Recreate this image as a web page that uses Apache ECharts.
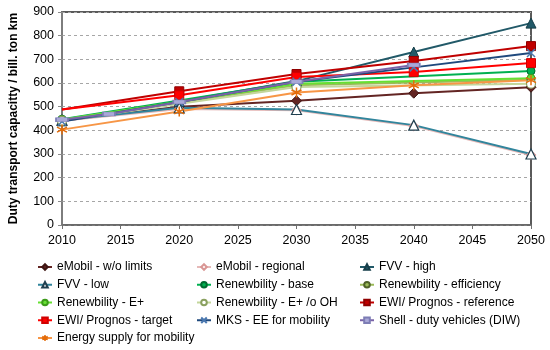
<!DOCTYPE html>
<html>
<head>
<meta charset="utf-8">
<script src="https://cdn.jsdelivr.net/npm/echarts@6/dist/echarts.min.js"></script>
<style>html,body{margin:0;padding:0;background:#fff;}#c{width:550px;height:350px;}</style>
</head>
<body>
<div id="c"></div>
<script>
// ---- data ----
const xTicks = [2010, 2015, 2020, 2025, 2030, 2035, 2040, 2045, 2050];
const yTicks = [0, 100, 200, 300, 400, 500, 600, 700, 800, 900];

const stdYears = [2010, 2020, 2030, 2040, 2050];
const renewYears = [2010, 2030, 2050];
const shellYears = [2010, 2014, 2020, 2030, 2040];

const eMobilWoLimits = [440, 500, 525, 557, 582];
const eMobilRegional = [440, 490, 485, 418, 296];
const fvvHigh = [440, 522, 608, 731, 853];
const fvvLow = [443, 495, 488, 422, 300];
const renewBase = [447, 605, 651];
const renewEfficiency = [445, 590, 614];
const renewEPlus = [445, 597, 620];
const renewEPlusNoOH = [440, 583, 597];
const ewiReference = [488, 565, 638, 693, 756];
const ewiTarget = [488, 548, 625, 646, 684];
const mksEE = [437, 520, 605, 666, 727];
const shellDuty = [445, 469, 520, 605, 676];
const energySupply = [403, 480, 560, 590, 612];

const seriesNames = [
  'eMobil - w/o limits', 'eMobil - regional', 'FVV - high',
  'FVV - low', 'Renewbility - base', 'Renewbility - efficiency',
  'Renewbility - E+', 'Renewbility - E+ /o OH', 'EWI/ Prognos - reference',
  'EWI/ Prognos - target', 'MKS - EE for mobility', 'Shell - duty vehicles (DIW)',
  'Energy supply for mobility'
];

// ---- styling ----
const X_PATH = 'path://M-1,-1L1,1M-1,1L1,-1';
const STAR_PATH = 'path://M0,-1L0,1M-0.87,-0.5L0.87,0.5M-0.87,0.5L0.87,-0.5';

function pairs(years, vals, hideFirst) {
  return years.map((y, i) => {
    if (hideFirst && i === 0) return { value: [y, vals[i]], symbol: 'none' };
    return [y, vals[i]];
  });
}

function mk(name, years, vals, lineColor, symbol, size, fill, border, bw, hideFirst) {
  return {
    name: name,
    type: 'line',
    data: pairs(years, vals, hideFirst),
    symbol: symbol,
    symbolSize: size,
    showAllSymbol: true,
    lineStyle: { color: lineColor, width: 2 },
    itemStyle: { color: fill, borderColor: border, borderWidth: bw },
    emphasis: { disabled: true },
    animation: false
  };
}

const series = [
  mk(seriesNames[0], stdYears, eMobilWoLimits, '#632523', 'diamond', 10, '#632523', '#3d1512', 1),
  mk(seriesNames[1], stdYears, eMobilRegional, '#E6B9B8', 'diamond', 9, '#ffffff', '#D99694', 1.2),
  mk(seriesNames[2], stdYears, fvvHigh, '#215968', 'triangle', 10, '#215968', '#163e49', 1),
  mk(seriesNames[3], stdYears, fvvLow, '#31859C', 'triangle', 10, '#ffffff', '#1f3f4f', 1.2),
  mk(seriesNames[4], renewYears, renewBase, '#00B050', 'circle', 8, '#00B050', '#006b30', 1),
  mk(seriesNames[5], renewYears, renewEfficiency, '#9BBB59', 'circle', 8, '#9BBB59', '#4F6228', 1),
  mk(seriesNames[6], renewYears, renewEPlus, '#66E033', 'circle', 8, '#66E033', '#3c9a1a', 1),
  mk(seriesNames[7], renewYears, renewEPlusNoOH, '#C3D69B', 'circle', 9, '#ffffff', '#8aa060', 1.2),
  mk(seriesNames[8], stdYears, ewiReference, '#C00000', 'rect', 9, '#C00000', '#900000', 1, true),
  mk(seriesNames[9], stdYears, ewiTarget, '#FF0000', 'rect', 9, '#FF0000', '#d00000', 1, true),
  mk(seriesNames[10], stdYears, mksEE, '#1F497D', X_PATH, 8, 'rgba(0,0,0,0)', '#4a78b0', 1.5),
  mk(seriesNames[11], shellYears, shellDuty, '#7a63a8', 'rect', [12, 4], '#a9a8d8', '#7d7db5', 1),
  mk(seriesNames[12], stdYears, energySupply, '#F79646', STAR_PATH, 10, 'rgba(0,0,0,0)', '#E46C0A', 1.5)
];

const legendText = { fontFamily: 'Liberation Sans', fontSize: 12, color: '#000', lineHeight: 14 };
function legendCol(left, names) {
  return {
    orient: 'vertical', left: left, top: 260,
    itemWidth: 14, itemHeight: 7, itemGap: 3.75,
    textStyle: legendText, data: names, selectedMode: false, padding: 0
  };
}

const chart = echarts.init(document.getElementById('c'), null, { renderer: 'canvas' });
chart.setOption({
  animation: false,
  backgroundColor: '#fff',
  grid: { left: 62, right: 19, top: 12, bottom: 125, show: true, borderColor: '#5a5a5a', borderWidth: 2, backgroundColor: 'transparent' },
  legend: [
    legendCol(37, [seriesNames[0], seriesNames[3], seriesNames[6], seriesNames[9], seriesNames[12]]),
    legendCol(196, [seriesNames[1], seriesNames[4], seriesNames[7], seriesNames[10]]),
    legendCol(359, [seriesNames[2], seriesNames[5], seriesNames[8], seriesNames[11]])
  ],
  xAxis: {
    type: 'value', min: xTicks[0], max: xTicks[xTicks.length - 1], interval: 5,
    axisLine: { show: true, lineStyle: { color: '#707070', width: 1.5 } },
    axisTick: { show: true, length: 4, lineStyle: { color: '#707070' } },
    axisLabel: { fontFamily: 'Liberation Sans', fontSize: 12.5, color: '#000', margin: 9, formatter: v => String(v) },
    splitLine: { show: false }
  },
  yAxis: {
    type: 'value', min: yTicks[0], max: yTicks[yTicks.length - 1], interval: 100,
    name: 'Duty transport capacitty / bill. ton km',
    nameLocation: 'middle', nameGap: 42,
    nameTextStyle: { fontFamily: 'Liberation Sans', fontSize: 12, fontWeight: 'bold', color: '#000' },
    axisLine: { show: true, lineStyle: { color: '#8a8a8a', width: 1.5 } },
    axisTick: { show: true, length: 4, lineStyle: { color: '#8a8a8a' } },
    axisLabel: { fontFamily: 'Liberation Sans', fontSize: 12.5, color: '#000', margin: 8 },
    splitLine: { show: true, lineStyle: { color: '#a6a6a6', type: [3, 3], width: 1 } }
  },
  series: series
});
</script>
</body>
</html>
